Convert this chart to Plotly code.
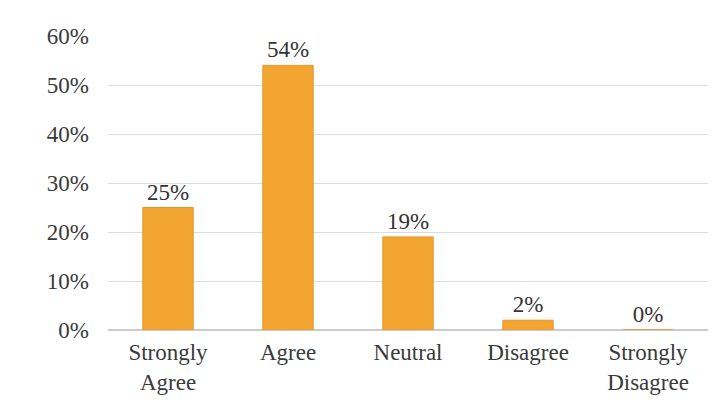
import plotly.graph_objects as go

categories = ["Strongly<br>Agree", "Agree", "Neutral", "Disagree", "Strongly<br>Disagree"]
values = [0.25, 0.54, 0.19, 0.02, 0.00]
labels = ["25%", "54%", "19%", "2%", "0%"]
tick_vals = [0, 0.1, 0.2, 0.3, 0.4, 0.5, 0.6]
tick_text = ["0%", "10%", "20%", "30%", "40%", "50%", "60%"]

fig = go.Figure(go.Bar(
    x=categories, y=values, text=labels, textposition="outside",
    marker=dict(color="#F2A531", line=dict(color="#E5962A", width=1)),
    width=0.42, cliponaxis=False,
    textfont=dict(family="Liberation Serif", size=23, color="#333333"),
))
fig.update_layout(
    width=718, height=407,
    margin=dict(l=100, r=18, t=28, b=85),
    paper_bgcolor="white", plot_bgcolor="white",
    font=dict(family="Liberation Serif", size=23, color="#3a3a3a"),
    showlegend=False,
    yaxis=dict(range=[0, 0.6], tickvals=tick_vals, ticktext=tick_text,
               showgrid=True, gridcolor="#DDDDDD", gridwidth=1, zeroline=True,
               zerolinecolor="#CCCCCC", ticks="", ticklabelstandoff=18),
    xaxis=dict(showgrid=False, ticks="", tickangle=0, ticklabelstandoff=6),
)
fig.write_html("out.html")
